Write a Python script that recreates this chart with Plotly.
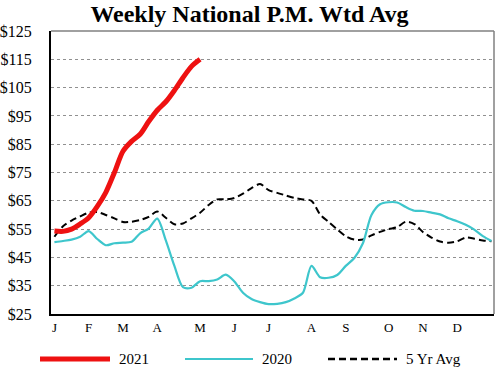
import plotly.graph_objects as go

# ---- data ----
weeks_2021 = list(range(0, 18))
vals_2021 = [54.3, 54.2, 55.0, 56.8, 59.0, 63.0, 68.0, 75.0, 82.5, 86.0,
             88.5, 93.0, 97.0, 100.0, 104.0, 108.5, 112.5, 115.0]

weeks_2020 = list(range(0, 52))
vals_2020 = [50.4, 50.8, 51.3, 52.3, 54.3, 51.5, 49.3, 50.0, 50.2, 50.5,
             53.5, 55.2, 58.7, 51.0, 42.0, 34.5, 34.3, 36.6, 36.6, 37.2,
             38.9, 36.5, 32.5, 30.3, 29.2, 28.5, 28.6, 29.2, 30.5, 32.5,
             42.0, 38.0, 37.8, 38.8, 42.0, 44.8, 50.0, 60.0, 63.8, 64.5,
             64.4, 62.8, 61.5, 61.4, 60.8, 60.2, 58.8, 57.8, 56.5, 54.8,
             52.5, 50.8]

weeks_5yr = list(range(0, 52))
vals_5yr = [52.3, 56.0, 58.0, 59.5, 60.8, 61.0, 60.0, 58.8, 57.5, 57.6,
            58.2, 59.3, 61.2, 59.0, 56.7, 57.0, 58.8, 60.8, 63.5, 65.5,
            65.5, 66.0, 67.5, 69.5, 70.9, 68.8, 67.8, 66.9, 66.0, 65.5,
            65.0, 60.2, 57.5, 54.9, 52.5, 51.3, 51.3, 52.8, 54.0, 55.0,
            55.7, 57.6, 56.8, 54.0, 52.0, 50.6, 50.2, 50.7, 52.0, 51.6,
            51.0, 50.7]

month_ticks = [0, 4, 8, 12, 17, 21, 25, 30, 34, 39, 43, 47]
month_labels = ["J", "F", "M", "A", "M", "J", "J", "A", "S", "O", "N", "D"]

y_ticks = [25, 35, 45, 55, 65, 75, 85, 95, 105, 115, 125]
y_labels = ["$" + str(v) for v in y_ticks]

series_names = ["2021", "2020", "5 Yr Avg"]
RED = "#EE1111"
TEAL = "#3EC6CC"
BLACK = "#000000"
SERIF = "Liberation Serif, Times New Roman, serif"
DASH = "7px,4px"

fig = go.Figure()
fig.add_trace(go.Scatter(x=weeks_5yr, y=vals_5yr, mode="lines", name=series_names[2],
                         line=dict(color=BLACK, width=2, dash=DASH, shape="spline", smoothing=0.8)))
fig.add_trace(go.Scatter(x=weeks_2020, y=vals_2020, mode="lines", name=series_names[1],
                         line=dict(color=TEAL, width=2.2, shape="spline", smoothing=0.8)))
fig.add_trace(go.Scatter(x=weeks_2021, y=vals_2021, mode="lines", name=series_names[0],
                         line=dict(color=RED, width=5, shape="spline", smoothing=0.8)))

fig.update_layout(
    width=499, height=375,
    margin=dict(l=51, r=5, t=31, b=61, autoexpand=False),
    paper_bgcolor="white", plot_bgcolor="white",
    showlegend=False,
    font=dict(family=SERIF, color="black"),
    title=dict(text="<b>Weekly National P.M. Wtd Avg</b>", x=0.5, xanchor="center",
               y=0.963, yanchor="middle", font=dict(size=24, family=SERIF, color="black")),
    xaxis=dict(range=[-0.4, 51.3], tickmode="array", tickvals=month_ticks, ticktext=month_labels,
               showgrid=False, zeroline=False, showline=True, linecolor="black", linewidth=2,
               ticks="", tickfont=dict(size=13, family=SERIF), ticklabelstandoff=0,
               automargin=False),
    yaxis=dict(range=[25, 125], tickmode="array", tickvals=y_ticks, ticktext=y_labels,
               showgrid=True, gridcolor="#909090", griddash="dot", gridwidth=1,
               zeroline=False, showline=True, linecolor="black", linewidth=2,
               ticks="", tickfont=dict(size=16, family=SERIF), ticklabelstandoff=14,
               automargin=False),
)

# top and right border (gray)
fig.add_shape(type="line", xref="paper", yref="paper", x0=0, x1=1, y0=1, y1=1,
              line=dict(color="#808080", width=1.5))
fig.add_shape(type="line", xref="paper", yref="paper", x0=1, x1=1, y0=0, y1=1,
              line=dict(color="#808080", width=1.5))

# custom legend below the plot
legend_items = [
    (series_names[0], RED, 5, "solid", 40, 110),
    (series_names[1], TEAL, 2.2, "solid", 185, 253),
    (series_names[2], BLACK, 2.5, DASH, 328, 397),
]
plot_l, plot_w = 51, 443
plot_b, plot_h = 314, 283
ly = -(359 - plot_b) / plot_h
for name, col, w, dash, px0, px1 in legend_items:
    x0 = (px0 - plot_l) / plot_w
    x1 = (px1 - plot_l) / plot_w
    fig.add_shape(type="line", xref="paper", yref="paper", x0=x0, x1=x1, y0=ly, y1=ly,
                  line=dict(color=col, width=w, dash=dash))
    fig.add_annotation(xref="paper", yref="paper", x=(px1 + 7 - plot_l) / plot_w, y=ly,
                       text=name, showarrow=False, xanchor="left", yanchor="middle",
                       font=dict(size=15, family=SERIF, color="black"))

fig.write_html("out.html", config={"displayModeBar": False},
               post_script="document.body.style.margin='0';document.body.style.overflow='hidden';")
